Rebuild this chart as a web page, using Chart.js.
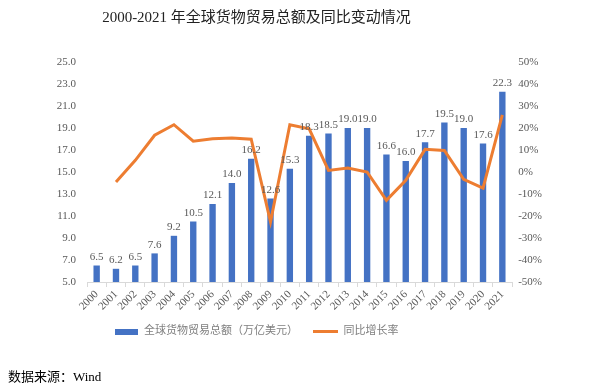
<!DOCTYPE html>
<html>

<head>
  <title>全球货物贸易</title>
  <script src="https://cdn.jsdelivr.net/npm/chart.js@4.4.0/dist/chart.umd.min.js"></script>
  <style>
    body { margin: 0; background: #fff; }
    #wrap { position: relative; width: 613px; height: 385px; }
    #source {
      position: absolute; left: 8px; top: 366px;
      font: 13px "Liberation Serif", "Noto Sans CJK SC", serif; color: #000;
    }
  </style>
</head>

<body>
  <div id="wrap">
    <canvas id="chart" width="613" height="385"></canvas>
    <div id="source">数据来源：Wind</div>
  </div>
  <script>
    var years = ["2000", "2001", "2002", "2003", "2004", "2005", "2006", "2007", "2008", "2009", "2010",
      "2011", "2012", "2013", "2014", "2015", "2016", "2017", "2018", "2019", "2020", "2021"];
    var tradeTotal = [6.5, 6.2, 6.5, 7.6, 9.2, 10.5, 12.1, 14.0, 16.2, 12.6, 15.3,
      18.3, 18.5, 19.0, 19.0, 16.6, 16.0, 17.7, 19.5, 19.0, 17.6, 22.3];
    var growthRate = [null, -4.5, 5.3, 16.7, 21.5, 14.0, 15.1, 15.5, 14.9, -22.7, 21.5,
      19.6, 0.7, 1.8, 0.0, -12.9, -3.8, 10.3, 9.8, -3.3, -7.3, 26.0];

    var serif = '"Liberation Serif", "Noto Sans CJK SC", serif';

    function legendIcon(w, h, color) {
      var c = document.createElement('canvas');
      c.width = w; c.height = h;
      var g = c.getContext('2d');
      g.fillStyle = color;
      g.fillRect(0, 0, w, h);
      return c;
    }
    var barIcon = legendIcon(23, 6, '#4472C4');
    var lineIcon = legendIcon(25, 3, '#ED7D31');

    // value labels above the bars
    var barLabels = {
      id: 'barLabels',
      afterDatasetsDraw: function (chart) {
        var ctx = chart.ctx;
        var meta = chart.getDatasetMeta(1);
        ctx.save();
        ctx.font = '11px ' + serif;
        ctx.fillStyle = '#595959';
        ctx.textAlign = 'center';
        ctx.textBaseline = 'bottom';
        meta.data.forEach(function (bar, i) {
          ctx.fillText(tradeTotal[i].toFixed(1), bar.x, bar.y - 3);
        });
        ctx.restore();
      }
    };

    new Chart(document.getElementById('chart'), {
      data: {
        labels: years,
        datasets: [
          {
            type: 'line',
            label: '同比增长率',
            data: growthRate,
            yAxisID: 'y1',
            borderColor: '#ED7D31',
            borderWidth: 3,
            pointRadius: 0,
            tension: 0,
            order: 0
          },
          {
            type: 'bar',
            label: '全球货物贸易总额（万亿美元）',
            data: tradeTotal,
            yAxisID: 'y',
            backgroundColor: '#4472C4',
            barPercentage: 0.6,
            categoryPercentage: 0.55,
            order: 1
          }
        ]
      },
      options: {
        responsive: false,
        animation: false,
        layout: { padding: { top: 0, bottom: 38, left: 0, right: 100 } },
        plugins: {
          title: {
            display: true,
            text: '2000-2021 年全球货物贸易总额及同比变动情况',
            color: '#222',
            font: { family: serif, size: 15, weight: 'normal' },
            padding: { top: 9, bottom: 35 }
          },
          legend: {
            position: 'bottom',
            reverse: true,
            labels: {
              usePointStyle: true,
              pointStyleWidth: 24,
              color: '#7f7f7f',
              font: { family: serif, size: 11 },
              padding: 16,
              generateLabels: function (chart) {
                var items = Chart.defaults.plugins.legend.labels.generateLabels(chart);
                items.forEach(function (it) {
                  it.pointStyle = it.datasetIndex === 0 ? lineIcon : barIcon;
                });
                return items;
              }
            }
          },
          tooltip: { enabled: false }
        },
        scales: {
          x: {
            offset: true,
            afterFit: function (axis) { axis.height = 28; },
            grid: { offset: true, drawOnChartArea: false, color: '#d9d9d9', tickLength: 5 },
            border: { color: '#d9d9d9' },
            ticks: {
              autoSkip: false,
              color: '#595959',
              font: { family: serif, size: 11 },
              minRotation: 45,
              maxRotation: 45,
              padding: 1
            }
          },
          y: {
            position: 'left',
            min: 5,
            max: 25,
            afterFit: function (axis) { axis.width = 87; },
            grid: { display: false, drawTicks: false },
            border: { display: false },
            ticks: {
              stepSize: 2,
              padding: 11,
              color: '#595959',
              font: { family: serif, size: 11 },
              callback: function (v) { return v.toFixed(1); }
            }
          },
          y1: {
            position: 'right',
            min: -50,
            max: 50,
            afterFit: function (axis) { axis.width = 1; },
            grid: { display: false, drawTicks: false },
            border: { display: false },
            ticks: {
              stepSize: 10,
              mirror: true,
              crossAlign: 'far',
              padding: 30,
              color: '#595959',
              font: { family: serif, size: 11 },
              callback: function (v) { return v + '%'; }
            }
          }
        }
      },
      plugins: [barLabels]
    });
  </script>
</body>

</html>
